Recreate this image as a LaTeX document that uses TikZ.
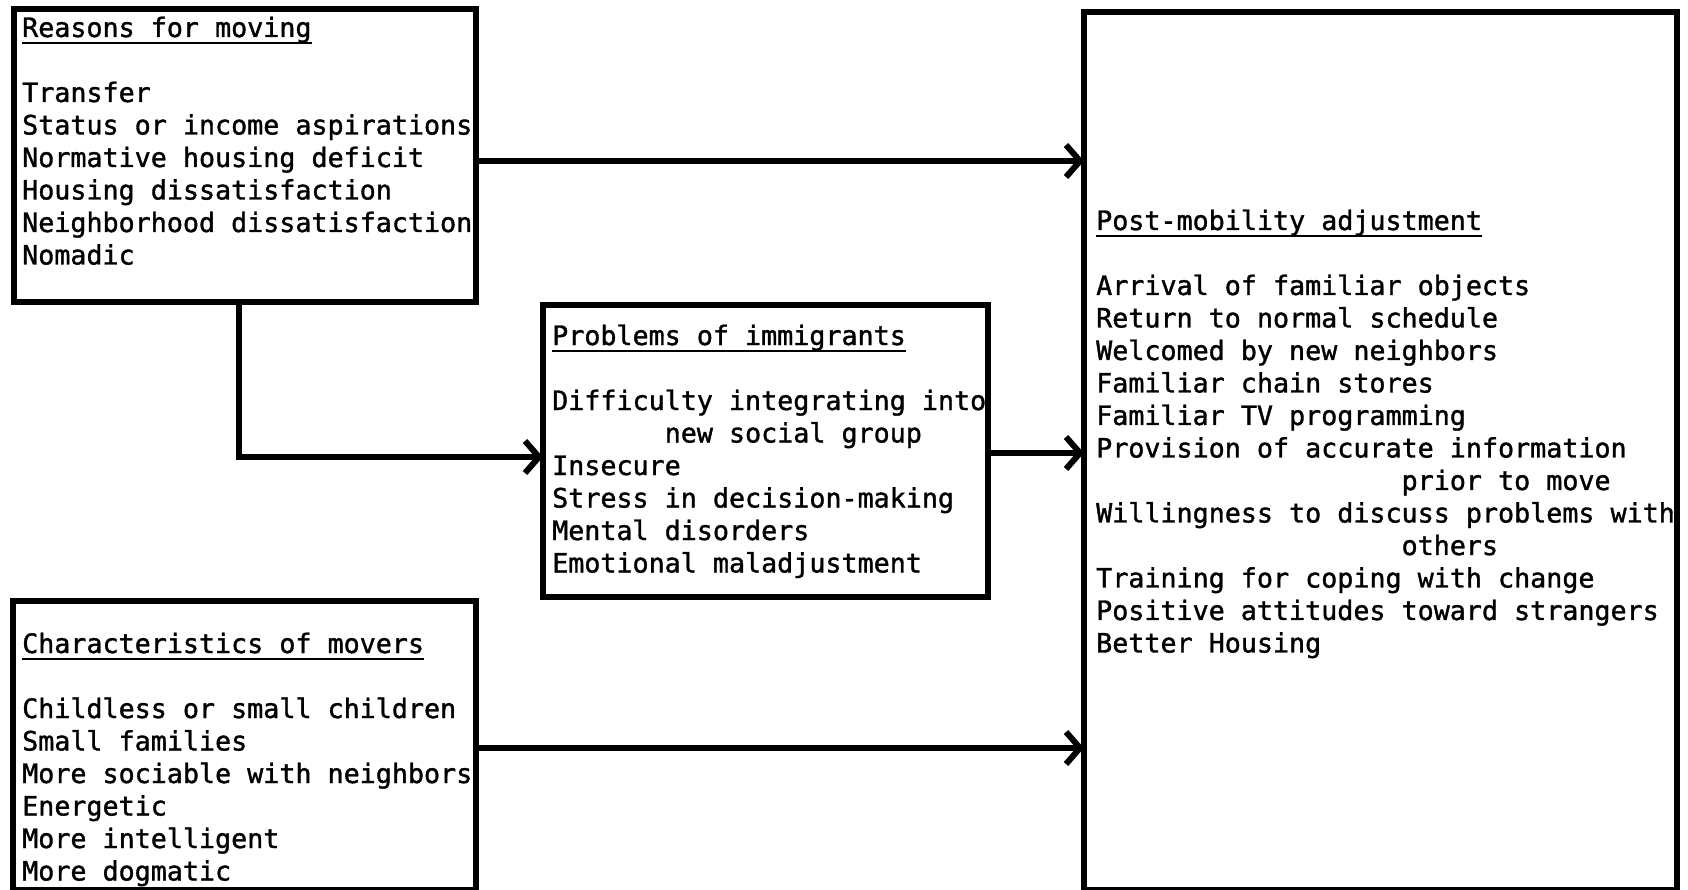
\documentclass[tikz,border=0pt]{standalone}
\usepackage{fontspec}
\usetikzlibrary{arrows.meta}
\newfontfamily\tw[FakeBold=1.3]{DejaVu Sans Mono}
\newcommand\myul[1]{\setbox0\hbox{#1}\rlap{\rule[-7pt]{\wd0}{2.4pt}}\box0}
\newcommand\lines[1]{\begin{tabular}[t]{@{}l@{}}#1\end{tabular}}
\begin{document}
\begin{tikzpicture}[x=1pt,y=-1pt,
  box/.style={draw, line width=5.5pt, inner sep=0pt, outer sep=0pt, anchor=north west},
  txt/.style={inner sep=0pt, anchor=base west, font=\fontsize{26.7pt}{32.5pt}\tw},
  arr/.style={line width=6pt, -{Straight Barb[length=14pt,width=32pt]}}]
\useasboundingbox (0,0) rectangle (1688,890);
\fill[white] (0,0) rectangle (1688,890);
% boxes
\node[box, minimum width=462pt, minimum height=293pt] (reasons) at (14,9) {};
\node[box, minimum width=593pt, minimum height=878pt] (post) at (1084,12) {};
\node[box, minimum width=445pt, minimum height=292pt] (problems) at (543,305) {};
\node[box, minimum width=463pt, minimum height=289pt] (chars) at (13,601) {};
% texts
\node[txt] (reasonsT) at (22,37) {\lines{\myul{Reasons for moving}\\ \\
 Transfer\\ Status or income aspirations\\ Normative housing deficit\\
 Housing dissatisfaction\\ Neighborhood dissatisfaction\\ Nomadic}};
\node[txt] (postT) at (1096,230) {\lines{\myul{Post-mobility adjustment}\\ \\
 Arrival of familiar objects\\ Return to normal schedule\\ Welcomed by new neighbors\\
 Familiar chain stores\\ Familiar TV programming\\ Provision of accurate information\\
 \phantom{xxxxxxxxxxxxxxxxxxx}prior to move\\
 Willingness to discuss problems with\\
 \phantom{xxxxxxxxxxxxxxxxxxx}others\\
 Training for coping with change\\ Positive attitudes toward strangers\\ Better Housing}};
\node[txt] (problemsT) at (552,345) {\lines{\myul{Problems of immigrants}\\ \\
 Difficulty integrating into\\ \phantom{xxxxxxx}new social group\\ Insecure\\
 Stress in decision-making\\ Mental disorders\\ Emotional maladjustment}};
\node[txt] (charsT) at (22,653) {\lines{\myul{Characteristics of movers}\\ \\
 Childless or small children\\ Small families\\ More sociable with neighbors\\
 Energetic\\ More intelligent\\ More dogmatic}};
% connectors
\coordinate (a1) at ([yshift=-5.5pt]reasons.east);
\coordinate (a2) at ([xshift=-6pt]reasons.south);
\coordinate (b2) at ([yshift=-6pt]problems.west);
\coordinate (a3) at ([yshift=-2pt]problems.east);
\coordinate (a4) at ([yshift=-2.5pt]chars.east);
\draw[arr] (a1) -- (a1 -| post.west);
\draw[arr] (a2) |- (b2);
\draw[arr] (a3) -- (a3 -| post.west);
\draw[arr] (a4) -- (a4 -| post.west);
\end{tikzpicture}
\end{document}
